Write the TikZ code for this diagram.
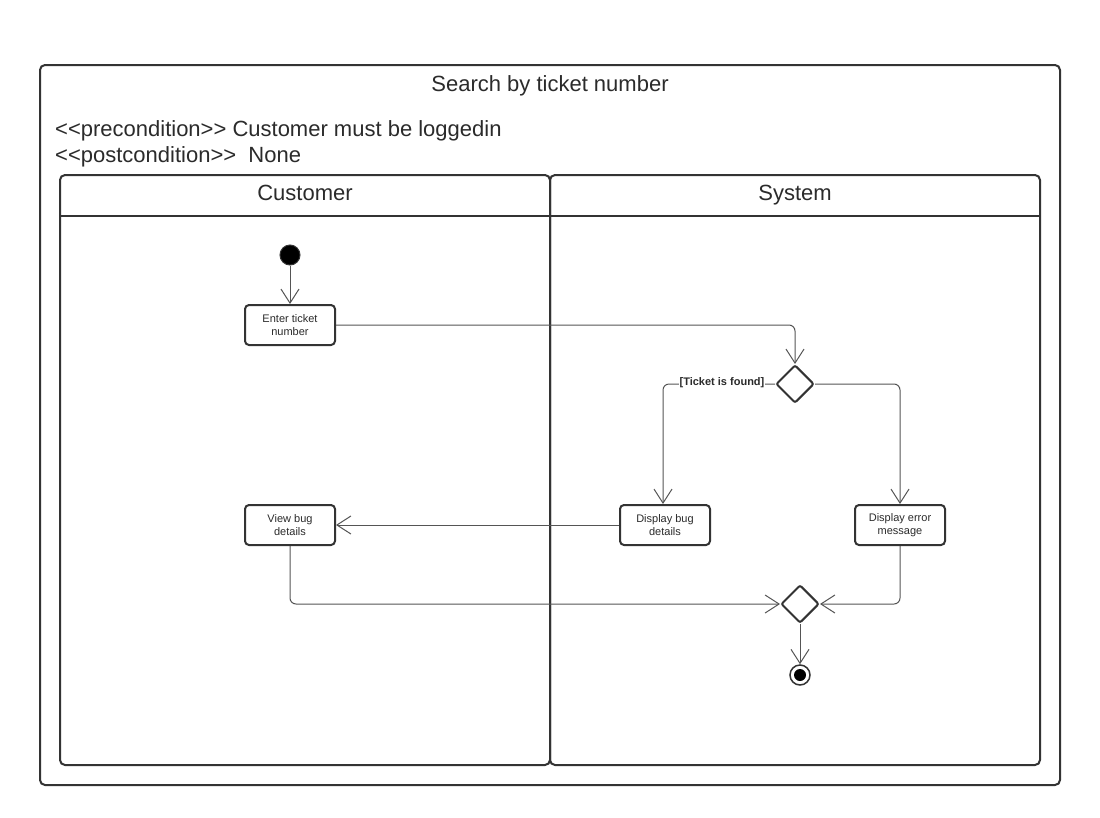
\documentclass[tikz,border=0pt]{standalone}
\usepackage{fontspec}
\setmainfont{Liberation Sans}
\usetikzlibrary{arrows.meta,shapes.geometric}
\definecolor{frame}{HTML}{333333}
\definecolor{conn}{HTML}{555555}
\definecolor{txt}{HTML}{2B2B2B}
\newcommand\myll{<\kern0pt<}
\newcommand\mygg{>\kern0pt>}
\tikzset{
  frm/.style={draw=frame,line width=2pt,rounded corners=5pt},
  act/.style={draw=frame,line width=2pt,rounded corners=4pt,minimum width=90pt,minimum height=40pt,align=center,font=\fontsize{11}{13.5}\selectfont,text=txt,inner sep=1pt},
  dec/.style={draw=frame,line width=2pt,diamond,rounded corners=2pt,minimum width=38pt,minimum height=38pt,inner sep=0pt},
  conn/.style={draw=conn,line width=1pt,rounded corners=6pt,-{Straight Barb[length=14pt,width=18pt,line width=1pt]}},
  big/.style={font=\fontsize{22}{26}\selectfont,text=txt,inner sep=0pt,anchor=base},
}
\begin{document}
\begin{tikzpicture}[x=1pt,y=-1pt]
\useasboundingbox (0,0) rectangle (1100,817);
\fill[white] (0,0) rectangle (1100,817);
% outer frame
\draw[frm] (40,65) rectangle (1060,785);
\node[big] (title) at (550,91) {Search by ticket number};
\node[big,anchor=base west] (pre) at (55,136) {\myll precondition\mygg{} Customer must be loggedin};
\node[big,anchor=base west] (post) at (55,162) {\myll postcondition\mygg\ \ None};
% lanes
\draw[frm] (60,175) rectangle (550,765);
\draw[frm] (550,175) rectangle (1040,765);
\draw[draw=frame,line width=2pt] (60,216) -- (1040,216);
\node[big] (lc) at (305,200) {Customer};
\node[big] (ls) at (795,200) {System};
% nodes
\node[circle,fill=black,draw=frame,line width=1pt,minimum size=20pt,inner sep=0pt] (init) at (290,255) {};
\node[act] (enter) at (290,325) {Enter ticket\\number};
\node[dec] (d1) at (795,384) {};
\node[act] (dbug) at (665,525) {Display bug\\details};
\node[act] (derr) at (900,525) {Display error\\message};
\node[act] (vbug) at (290,525) {View bug\\details};
\node[dec] (d2) at (800,604) {};
\node[circle,draw=frame,line width=1.5pt,minimum size=20pt,inner sep=0pt] (fin) at (800,675) {};
\node[circle,fill=black,minimum size=12pt,inner sep=0pt] (finin) at (fin.center) {};
% connectors
\draw[conn] (init) -- (enter);
\draw[conn] (enter.east) -- (d1.north |- enter.east) -- (d1.north);
\draw[conn] (d1.west) -- (663,384) -- (663,384 |- dbug.north);
\node[fill=white,inner sep=1pt,font=\fontsize{11}{13}\selectfont\bfseries,text=txt] (lbl) at (722,383) {[Ticket is found]};
\draw[conn] (d1.east) -- (900,384) -- (derr.north);
\draw[conn] (dbug.west) -- (vbug.east);
\draw[conn] (vbug.south) -- (290,604) -- (d2.west);
\draw[conn] (derr.south) -- (900,604) -- (d2.east);
\draw[conn] (d2.south) -- (fin.north);
\end{tikzpicture}
\end{document}
